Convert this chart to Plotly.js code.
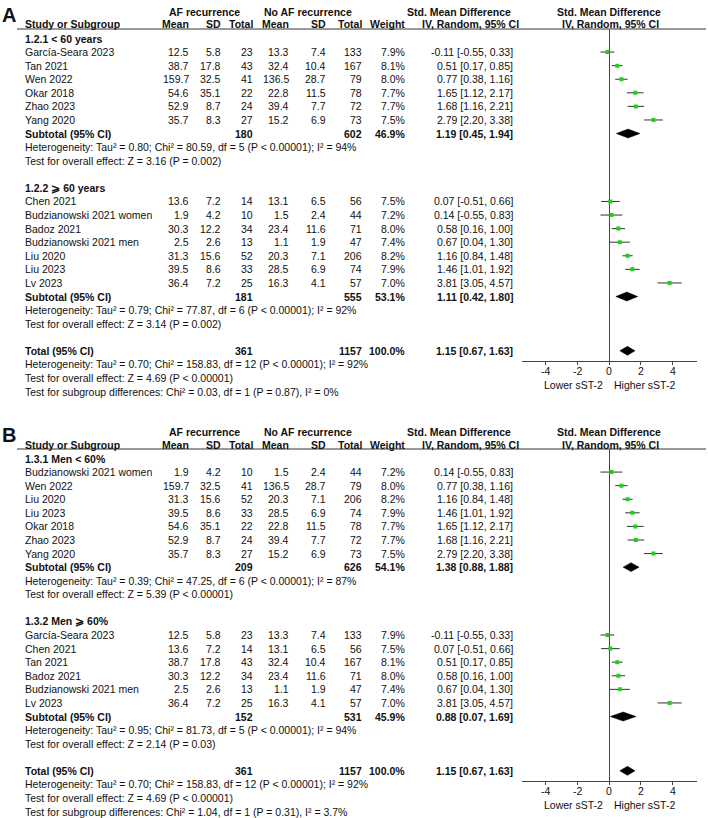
<!DOCTYPE html>
<html><head><meta charset="utf-8">
<script src="https://cdn.plot.ly/plotly-3.0.1.min.js"></script>
<style>html,body{margin:0;padding:0;background:#fff}#chart{width:708px;height:818px}</style>
</head><body><div id="chart"></div>
<script>
// ---------- data ----------
const studyNames = ["García-Seara 2023","Tan 2021","Wen 2022","Okar 2018","Zhao 2023","Yang 2020","Chen 2021","Budzianowski 2021 women","Badoz 2021","Budzianowski 2021 men","Liu 2020","Liu 2023","Lv 2023"];
const afMean = [12.5,38.7,159.7,54.6,52.9,35.7,13.6,1.9,30.3,2.5,31.3,39.5,36.4];
const afSD   = [5.8,17.8,32.5,35.1,8.7,8.3,7.2,4.2,12.2,2.6,15.6,8.6,7.2];
const afN    = [23,43,41,22,24,27,14,10,34,13,52,33,25];
const noMean = [13.3,32.4,136.5,22.8,39.4,15.2,13.1,1.5,23.4,1.1,20.3,28.5,16.3];
const noSD   = [7.4,10.4,28.7,11.5,7.7,6.9,6.5,2.4,11.6,1.9,7.1,6.9,4.1];
const noN    = [133,167,79,78,72,73,56,44,71,47,206,74,57];
const weight = [7.9,8.1,8.0,7.7,7.7,7.5,7.5,7.2,8.0,7.4,8.2,7.9,7.0];
const smd    = [-0.11,0.51,0.77,1.65,1.68,2.79,0.07,0.14,0.58,0.67,1.16,1.46,3.81];
const ciLow  = [-0.55,0.17,0.38,1.12,1.16,2.20,-0.51,-0.55,0.16,0.04,0.84,1.01,3.05];
const ciHigh = [0.33,0.85,1.16,2.17,2.21,3.38,0.66,0.83,1.00,1.30,1.48,1.92,4.57];

// panel A subgroups
const aLabels   = ["1.2.1 &lt; 60 years","1.2.2 ⩾ 60 years"];
const aOrder    = [[0,1,2,3,4,5],[6,7,8,9,10,11,12]];
const aSubAfN   = [180,181];
const aSubNoN   = [602,555];
const aSubW     = [46.9,53.1];
const aSubSmd   = [1.19,1.11];
const aSubLo    = [0.45,0.42];
const aSubHi    = [1.94,1.80];
const aHet      = ["Heterogeneity: Tau² = 0.80; Chi² = 80.59, df = 5 (P &lt; 0.00001); I² = 94%","Heterogeneity: Tau² = 0.79; Chi² = 77.87, df = 6 (P &lt; 0.00001); I² = 92%"];
const aTest     = ["Test for overall effect: Z = 3.16 (P = 0.002)","Test for overall effect: Z = 3.14 (P = 0.002)"];
const aSubDiff  = "Test for subgroup differences: Chi² = 0.03, df = 1 (P = 0.87), I² = 0%";

// panel B subgroups
const bLabels   = ["1.3.1 Men &lt; 60%","1.3.2 Men ⩾ 60%"];
const bOrder    = [[7,2,10,11,3,4,5],[0,6,1,8,9,12]];
const bSubAfN   = [209,152];
const bSubNoN   = [626,531];
const bSubW     = [54.1,45.9];
const bSubSmd   = [1.38,0.88];
const bSubLo    = [0.88,0.07];
const bSubHi    = [1.88,1.69];
const bHet      = ["Heterogeneity: Tau² = 0.39; Chi² = 47.25, df = 6 (P &lt; 0.00001); I² = 87%","Heterogeneity: Tau² = 0.95; Chi² = 81.73, df = 5 (P &lt; 0.00001); I² = 94%"];
const bTest     = ["Test for overall effect: Z = 5.39 (P &lt; 0.00001)","Test for overall effect: Z = 2.14 (P = 0.03)"];
const bSubDiff  = "Test for subgroup differences: Chi² = 1.04, df = 1 (P = 0.31), I² = 3.7%";

// overall
const totAfN = 361, totNoN = 1157, totW = 100.0, totSmd = 1.15, totLo = 0.67, totHi = 1.63;
const totHet = "Heterogeneity: Tau² = 0.70; Chi² = 158.83, df = 12 (P &lt; 0.00001); I² = 92%";
const totTest = "Test for overall effect: Z = 4.69 (P &lt; 0.00001)";
const xTicks = [-4,-2,0,2,4];
const xTickText = ["-4","-2","0","2","4"];

// ---------- layout helpers ----------
const W=708,H=818;
const FONT='"Liberation Sans", Arial, Helvetica, sans-serif';
const FS = 10.5;
const fx = px => px/W;
const fy = px => 1 - px/H;
const ROW0=38.5, ROWH=13.58, PANEL_OFF=420;
const AX_TOP=29, AX_BOT=361.2;
const rowOfPx = px => (px-ROW0)/ROWH;
const COL = {name:25, afMean:189, afSD:221, afN:253, noMean:289, noSD:326, noN:362, w:405, ci:513};
const DH = 0.33;

const annotations=[], shapes=[], traces=[];
function txtPx(p, x, ypx, text, anchor, bold, size){
  annotations.push({xref:'paper', x:fx(x), yref:'paper', y:fy(ypx + p*PANEL_OFF),
    text: bold?'<b>'+text+'</b>':text, xanchor:anchor, yanchor:'middle',
    showarrow:false, borderpad:0, borderwidth:0,
    font:{family:FONT, size:size||FS, color:'#111'}});
}
const rowPx = r => ROW0 + ROWH*r;
const txt = (p, x, r, text, anchor, bold) => txtPx(p, x, rowPx(r), text, anchor, bold);
const ciStr = (e,l,h) => e.toFixed(2)+' ['+l.toFixed(2)+', '+h.toFixed(2)+']';

function diamond(p, row, e, l, h){
  traces.push({type:'scatter', mode:'lines', xaxis:p?'x2':'x', yaxis:p?'y2':'y',
    x:[l,e,h,e,l], y:[row,row-DH,row,row+DH,row], fill:'toself',
    fillcolor:'#000', line:{color:'#000',width:0.5}, hoverinfo:'skip'});
}

function panel(p, label, labels, order, sAfN, sNoN, sW, sSmd, sLo, sHi, het, test, subDiff){
  const xr = p?'x2':'x';
  // headers
  txtPx(p, 9, 15, label, 'center', true, 20);
  const h1 = 12, h2 = 24.5;
  txtPx(p, 204, h1, 'AF recurrence', 'center', true);
  txtPx(p, 308, h1, 'No AF recurrence', 'center', true);
  txtPx(p, 459, h1, 'Std. Mean Difference', 'center', true);
  txtPx(p, 609, h1, 'Std. Mean Difference', 'center', true);
  txtPx(p, COL.name, h2, 'Study or Subgroup', 'left', true);
  txtPx(p, COL.afMean, h2, 'Mean', 'right', true);
  txtPx(p, COL.afSD, h2, 'SD', 'right', true);
  txtPx(p, COL.afN, h2, 'Total', 'right', true);
  txtPx(p, COL.noMean, h2, 'Mean', 'right', true);
  txtPx(p, COL.noSD, h2, 'SD', 'right', true);
  txtPx(p, COL.noN, h2, 'Total', 'right', true);
  txtPx(p, COL.w, h2, 'Weight', 'right', true);
  txtPx(p, 470, h2, 'IV, Random, 95% CI', 'center', true);
  txtPx(p, 610, h2, 'IV, Random, 95% CI', 'center', true);
  const uy = fy(AX_TOP + p*PANEL_OFF);
  shapes.push({type:'line', xref:'paper', yref:'paper', x0:fx(17), x1:fx(706), y0:uy, y1:uy, line:{color:'#777', width:1.5}});

  const sqX=[], sqY=[], eHi=[], eLo=[];
  let r = 0;
  labels.forEach((lab, g) => {
    txt(p, COL.name, r, lab, 'left', true); r++;
    order[g].forEach(i => {
      txt(p, COL.name, r, studyNames[i], 'left');
      txt(p, COL.afMean, r, afMean[i].toFixed(1), 'right');
      txt(p, COL.afSD, r, afSD[i].toFixed(1), 'right');
      txt(p, COL.afN, r, String(afN[i]), 'right');
      txt(p, COL.noMean, r, noMean[i].toFixed(1), 'right');
      txt(p, COL.noSD, r, noSD[i].toFixed(1), 'right');
      txt(p, COL.noN, r, String(noN[i]), 'right');
      txt(p, COL.w, r, weight[i].toFixed(1)+'%', 'right');
      txt(p, COL.ci, r, ciStr(smd[i], ciLow[i], ciHigh[i]), 'right');
      sqX.push(smd[i]); sqY.push(r); eHi.push(ciHigh[i]-smd[i]); eLo.push(smd[i]-ciLow[i]);
      r++;
    });
    txt(p, COL.name, r, 'Subtotal (95% CI)', 'left', true);
    txt(p, COL.afN, r, String(sAfN[g]), 'right', true);
    txt(p, COL.noN, r, String(sNoN[g]), 'right', true);
    txt(p, COL.w, r, sW[g].toFixed(1)+'%', 'right', true);
    txt(p, COL.ci, r, ciStr(sSmd[g], sLo[g], sHi[g]), 'right', true);
    diamond(p, r, sSmd[g], sLo[g], sHi[g]);
    r++;
    txt(p, COL.name, r, het[g], 'left'); r++;
    txt(p, COL.name, r, test[g], 'left'); r++;
    r++;
  });
  txt(p, COL.name, r, 'Total (95% CI)', 'left', true);
  txt(p, COL.afN, r, String(totAfN), 'right', true);
  txt(p, COL.noN, r, String(totNoN), 'right', true);
  txt(p, COL.w, r, totW.toFixed(1)+'%', 'right', true);
  txt(p, COL.ci, r, ciStr(totSmd, totLo, totHi), 'right', true);
  diamond(p, r, totSmd, totLo, totHi);
  r++;
  txt(p, COL.name, r, totHet, 'left'); r++;
  txt(p, COL.name, r, totTest, 'left'); r++;
  txt(p, COL.name, r, subDiff, 'left');

  traces.push({type:'scatter', mode:'markers', xaxis:xr, yaxis:p?'y2':'y',
    x:sqX, y:sqY, marker:{symbol:'square', size:4, color:'#19d219', line:{width:0}},
    error_x:{type:'data', symmetric:false, array:eHi, arrayminus:eLo, color:'#333', thickness:1, width:0},
    hoverinfo:'skip'});

  // tick labels (through the x scale)
  xTicks.forEach((v, k) => {
    annotations.push({xref:xr, x:v, yref:'paper', y:fy(370.7 + p*PANEL_OFF), text:xTickText[k],
      xanchor:'center', yanchor:'middle', showarrow:false, borderpad:0,
      font:{family:FONT,size:FS,color:'#111'}});
  });
  // axis direction labels
  const ly = fy(385 + p*PANEL_OFF);
  annotations.push({xref:xr, x:0, xshift:-5, yref:'paper', y:ly, text:'Lower sST-2', xanchor:'right', yanchor:'middle', showarrow:false, borderpad:0, font:{family:FONT,size:FS,color:'#111'}});
  annotations.push({xref:xr, x:0, xshift:4, yref:'paper', y:ly, text:'Higher sST-2', xanchor:'left', yanchor:'middle', showarrow:false, borderpad:0, font:{family:FONT,size:FS,color:'#111'}});
}

panel(0, 'A', aLabels, aOrder, aSubAfN, aSubNoN, aSubW, aSubSmd, aSubLo, aSubHi, aHet, aTest, aSubDiff);
panel(1, 'B', bLabels, bOrder, bSubAfN, bSubNoN, bSubW, bSubSmd, bSubLo, bSubHi, bHet, bTest, bSubDiff);

function xax(anchor){
  return {domain:[fx(521.7), fx(696.7)], range:[-5.52,5.52], anchor:anchor,
    showgrid:false, zeroline:true, zerolinecolor:'#444', zerolinewidth:1,
    showline:true, linecolor:'#444', linewidth:1, ticks:'outside', ticklen:3, tickcolor:'#444', tickwidth:1,
    tickvals:xTicks, showticklabels:false, fixedrange:true};
}
function yax(p){
  return {domain:[fy(AX_BOT+p*PANEL_OFF), fy(AX_TOP+p*PANEL_OFF)],
    range:[rowOfPx(AX_BOT), rowOfPx(AX_TOP)], visible:false, fixedrange:true};
}

const layout = {width:W, height:H, margin:{l:0,r:0,t:0,b:0}, paper_bgcolor:'#fff', plot_bgcolor:'rgba(0,0,0,0)',
  showlegend:false, xaxis:xax('y'), yaxis:yax(0), xaxis2:xax('y2'), yaxis2:yax(1),
  annotations:annotations, shapes:shapes};

Plotly.newPlot('chart', traces, layout, {staticPlot:true, displayModeBar:false});
</script></body></html>
